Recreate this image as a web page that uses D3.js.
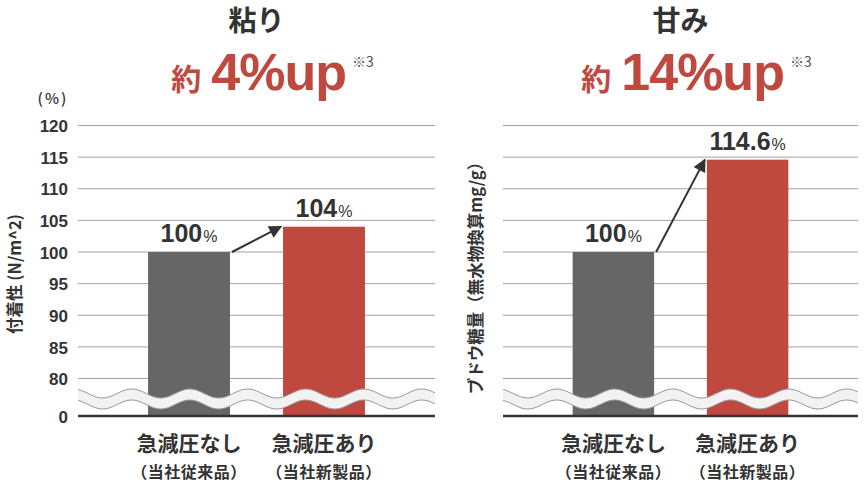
<!DOCTYPE html>
<html>
<head>
<meta charset="utf-8">
<script src="https://cdn.jsdelivr.net/npm/d3@7/dist/d3.min.js"></script>
<style>
  html, body { margin: 0; padding: 0; background: #fff; }
  svg { display: block; }
</style>
</head>
<body>
<svg id="chart" width="864" height="486"></svg>
<script>
// ---------- data ----------
const categories = ["急減圧なし", "急減圧あり"];
const subLabels = ["（当社従来品）", "（当社新製品）"];
const stickinessValues = [100, 104];
const sweetnessValues = [100, 114.6];
const stickinessLabels = ["100", "104"];
const sweetnessLabels = ["100", "114.6"];
const tickValues = [0, 80, 85, 90, 95, 100, 105, 110, 115, 120];
const gridValues = [80, 85, 90, 95, 100, 105, 110, 115, 120];
const panelTitles = ["粘り", "甘み"];
const headlineNumbers = ["4%up", "14%up"];
const yAxisTitles = ["付着性 (N/m^2)", "ブドウ糖量（無水物換算mg/g）"];

// ---------- styles ----------
const C = {
  gray: "#666666", red: "#c0493f", text: "#333333",
  grid: "#a3a3a3", base: "#333333", waveFill: "#f2f2f2", waveLine: "#9a9a9a"
};
const JP = "'Noto Sans CJK JP', 'Noto Sans', sans-serif";
const NUM = "'Liberation Sans', Arial, sans-serif";

const svg = d3.select("#chart");
const defs = svg.append("defs");
defs.append("marker")
  .attr("id", "arrow").attr("viewBox", "0 0 10 10")
  .attr("refX", 9).attr("refY", 5)
  .attr("markerWidth", 7).attr("markerHeight", 6.5)
  .attr("markerUnits", "strokeWidth")
  .attr("orient", "auto")
  .append("path").attr("d", "M0,0 L10,5 L0,10 z").attr("fill", "#333");

// piecewise scale with axis break between 0 and 80
const y = d3.scaleLinear().domain([0, 80, 120]).range([416, 378.5, 125.5]);

const panels = [
  { x0: 78, x1: 435, values: stickinessValues, labels: stickinessLabels, title: panelTitles[0],
    num: headlineNumbers[0], yTitle: yAxisTitles[0], yTitleX: 15, showTicks: true },
  { x0: 503, x1: 858, values: sweetnessValues, labels: sweetnessLabels, title: panelTitles[1],
    num: headlineNumbers[1], yTitle: yAxisTitles[1], yTitleX: 476, showTicks: false }
];

panels.forEach(p => {
  const g = svg.append("g");
  const x = d3.scaleBand().domain(categories).range([p.x0, p.x1])
    .paddingInner(0.393).paddingOuter(0.519);
  const cx = (p.x0 + p.x1) / 2;

  // grid
  g.append("g").selectAll("line").data(gridValues).join("line")
    .attr("x1", p.x0).attr("x2", p.x1)
    .attr("y1", d => y(d)).attr("y2", d => y(d))
    .attr("stroke", C.grid).attr("stroke-width", 1);

  // tick labels
  if (p.showTicks) {
    const axis = d3.axisLeft(y).tickValues(tickValues).tickSize(0).tickPadding(0)
      .tickFormat(d3.format("d"));
    const ag = g.append("g").attr("transform", `translate(${p.x0 - 10},0)`).call(axis);
    ag.select(".domain").remove();
    ag.selectAll("text").attr("font-family", NUM).attr("font-weight", "bold")
      .attr("font-size", 17).attr("fill", C.text).attr("dy", "0.36em");
    g.append("text").attr("x", 53).attr("y", 104).attr("text-anchor", "middle")
      .attr("font-family", JP).attr("font-size", 15).attr("font-weight", 500)
      .attr("fill", C.text).text("(%)").attr("letter-spacing", "2px");
  }

  // bars
  g.append("g").selectAll("rect").data(p.values).join("rect")
    .attr("x", (d, i) => x(categories[i]))
    .attr("width", x.bandwidth())
    .attr("y", d => y(d))
    .attr("height", d => y(0) - y(d))
    .attr("fill", (d, i) => i === 0 ? C.gray : C.red);

  // wave break band
  const period = 58, amp = 4.5, phase = p.x0 + 53.7, topC = 393.5, thick = 11;
  const xs = d3.range(p.x0, p.x1 + 0.5, 1);
  const topY = xx => topC - amp * Math.cos(2 * Math.PI * (xx - phase) / period);
  const area = d3.area().x(d => d).y0(d => topY(d)).y1(d => topY(d) + thick).curve(d3.curveBasis);
  const lineT = d3.line().x(d => d).y(d => topY(d)).curve(d3.curveBasis);
  const lineB = d3.line().x(d => d).y(d => topY(d) + thick).curve(d3.curveBasis);
  g.append("path").attr("d", area(xs)).attr("fill", C.waveFill);
  g.append("path").attr("d", lineT(xs)).attr("fill", "none").attr("stroke", C.waveLine).attr("stroke-width", 1);
  g.append("path").attr("d", lineB(xs)).attr("fill", "none").attr("stroke", C.waveLine).attr("stroke-width", 1);

  // baseline
  g.append("line").attr("x1", p.x0).attr("x2", p.x1)
    .attr("y1", y(0)).attr("y2", y(0)).attr("stroke", C.base).attr("stroke-width", 2.5);

  // value labels
  const vl = g.append("g").selectAll("text").data(p.values).join("text")
    .attr("x", (d, i) => x(categories[i]) + x.bandwidth() / 2)
    .attr("y", d => y(d) - 10)
    .attr("text-anchor", "middle").attr("fill", C.text)
    .attr("font-family", NUM).attr("font-weight", "bold");
  vl.append("tspan").attr("font-size", 25).text((d, i) => p.labels[i]);
  vl.append("tspan").attr("font-size", 16).attr("font-weight", "normal").attr("dx", 1).text("%");

  // arrow
  const b0 = x(categories[0]) + x.bandwidth(), b1 = x(categories[1]);
  g.append("line")
    .attr("x1", b0 + 2).attr("y1", y(p.values[0]))
    .attr("x2", b1 - 2).attr("y2", y(p.values[1]))
    .attr("stroke", "#333").attr("stroke-width", 2)
    .attr("marker-end", "url(#arrow)");

  // category labels
  g.append("g").selectAll("text").data(categories).join("text")
    .attr("x", d => x(d) + x.bandwidth() / 2).attr("y", 451)
    .attr("text-anchor", "middle").attr("font-family", JP).attr("font-weight", "bold")
    .attr("font-size", 21).attr("fill", C.text).text(d => d);
  g.append("g").selectAll("text").data(subLabels).join("text")
    .attr("x", (d, i) => x(categories[i]) + x.bandwidth() / 2).attr("y", 478)
    .attr("text-anchor", "middle").attr("font-family", JP).attr("font-weight", "bold")
    .attr("font-size", 16).attr("letter-spacing", "0.5px").attr("fill", C.text).text(d => d);

  // y axis title
  g.append("text")
    .attr("transform", `translate(${p.yTitleX},274) rotate(-90)`)
    .attr("text-anchor", "middle").attr("dy", "0.35em")
    .attr("font-family", JP).attr("font-weight", "bold").attr("font-size", 16.5)
    .attr("fill", C.text).text(p.yTitle);

  // panel title
  g.append("text").attr("x", cx).attr("y", 31).attr("text-anchor", "middle")
    .attr("font-family", JP).attr("font-weight", "bold").attr("font-size", 28)
    .attr("fill", C.text).text(p.title);

  // headline: 約 + number + ※3
  const hg = g.append("g");
  const t1 = hg.append("text").attr("y", 90).attr("font-family", JP).attr("font-weight", "bold")
    .attr("font-size", 30).attr("fill", C.red).text("約");
  const t2 = hg.append("text").attr("y", 90).attr("font-family", NUM).attr("font-weight", "bold")
    .attr("font-size", 52).attr("letter-spacing", "-1px").attr("fill", C.red).text(p.num);
  const t3 = hg.append("text").attr("y", 67).attr("font-family", JP)
    .attr("font-size", 14).attr("fill", "#555").text("※3");
  const w1 = t1.node().getComputedTextLength();
  const w2 = t2.node().getComputedTextLength();
  const w3 = t3.node().getComputedTextLength();
  const gap1 = 10, gap2 = 6;
  const total = w1 + gap1 + w2 + gap2 + w3;
  const start = cx + 16 - total / 2;
  t1.attr("x", start);
  t2.attr("x", start + w1 + gap1);
  t3.attr("x", start + w1 + gap1 + w2 + gap2);
});
</script>
</body>
</html>
